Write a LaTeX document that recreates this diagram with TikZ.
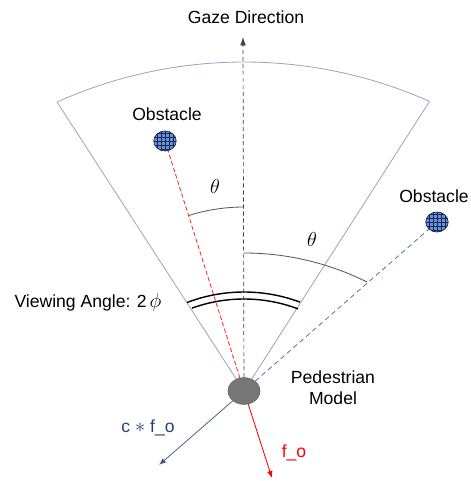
\documentclass[tikz,border=0pt]{standalone}
\usepackage{fontspec}
\setmainfont{Liberation Sans}
\usepackage{amsmath}
\usetikzlibrary{arrows.meta, positioning, calc, shapes.geometric}
\definecolor{fovblue}{RGB}{150,168,200}
\definecolor{dashblue}{RGB}{95,120,165}
\definecolor{obsfill}{RGB}{105,145,215}
\definecolor{navyline}{RGB}{25,40,85}
\definecolor{forceblue}{RGB}{40,65,115}
\definecolor{pedgray}{RGB}{118,118,118}
\tikzset{
	lbl/.style={font=\fontsize{12.5}{15}\selectfont, inner sep=1pt, align=center},
	anglbl/.style={font=\fontsize{15}{17}\selectfont, inner sep=1pt},
	fovline/.style={draw=fovblue, line width=0.6pt},
	obsnode/.style={draw=navyline, line width=0.5pt, ellipse, fill=obsfill, minimum width=0.56cm, minimum height=0.5cm, inner sep=0pt,
		path picture={\draw[navyline, line width=0.35pt] (path picture bounding box.south west) grid[step=1mm] (path picture bounding box.north east);}},
	forcearr/.style={-{Latex[length=5pt, width=4pt]}, line width=0.6pt},
}

\begin{document}
\begin{tikzpicture}[
		x=0.025cm, y=0.025cm,
		gazeline/.style={dashed, dash pattern=on 3pt off 2pt, draw=black!75, line width=0.5pt, -{Latex[length=6pt, width=4pt]}},
		thetaarc/.style={draw=black!65, line width=0.6pt},
		vaarc/.style={draw=black, line width=1pt}
	]
		\useasboundingbox (0,0) rectangle (470,481);

		% Pedestrian and obstacles
		\node[ellipse, draw=black!60, fill=pedgray, minimum width=0.8cm, minimum height=0.67cm, inner sep=0pt] (ped) at (244,90) {};
		\node[lbl] (pedlbl) at (333,93) {Pedestrian\\Model};
		\node[obsnode] (obsA) at (165,340) {};
		\node[lbl] (obsAlbl) at (167,367) {Obstacle};
		\node[obsnode] (obsB) at (437,259) {};
		\node[lbl] (obsBlbl) at (434,285) {Obstacle};

		% Field of view
		\coordinate (topcen) at (244,-38);
		\coordinate (fovL) at ($(topcen)+(114.15:457)$);
		\coordinate (fovR) at ($(topcen)+(66.05:457)$);
		\draw[fovline] (ped) -- (fovL);
		\draw[fovline] (ped) -- (fovR);
		\draw[fovline] (fovL) arc[start angle=114.15, end angle=66.05, radius=457];

		% Gaze direction
		\node[lbl] (gaze) at (246,464) {Gaze Direction};
		\coordinate (gazetip) at (243,444);
		\draw[gazeline] (ped) -- (gazetip);

		% Lines to obstacles
		\draw[red!85, dashed, dash pattern=on 3pt off 1.8pt, line width=0.6pt] (ped) -- (obsA);
		\draw[dashblue, dashed, dash pattern=on 3.5pt off 2.5pt, line width=0.6pt] (ped) -- (obsB);

		% Angles
		\coordinate (thAstart) at (244,274);
		\draw[thetaarc] (thAstart) arc[start angle=90, end angle=107.5, radius=184];
		\node[anglbl] (thA) at (215,295) {$\theta$};
		\coordinate (thBcen) at (244,-47);
		\draw[thetaarc] ($(thBcen)+(90:275)$) arc[start angle=90, end angle=63.4, radius=275];
		\node[anglbl] (thB) at (312,242) {$\theta$};

		% Viewing angle
		\coordinate (vacen) at (244,29);
		\draw[vaarc] ($(vacen)+(110.9:160)$) arc[start angle=110.9, end angle=69.5, radius=160];
		\draw[vaarc] ($(vacen)+(109.9:153)$) arc[start angle=109.9, end angle=69.3, radius=153];
		\node[lbl] (va) at (88,179) {Viewing Angle: 2\,{\fontsize{14}{16}\selectfont$\phi$}};

		% Forces
		\coordinate (fotip) at (272,3);
		\coordinate (cfotip) at (159,16);
		\draw[forcearr, red] (ped) -- (fotip);
		\draw[forcearr, forceblue!80, -{Latex[length=5pt, width=4pt, fill=forceblue]}] (ped) -- (cfotip);
		\node[lbl, text=red] (folbl) at (294,28) {f\_o};
		\node[lbl, text=forceblue] (cfolbl) at (148,53) {c {\Large$\ast$} f\_o};
	\end{tikzpicture}
\end{document}
